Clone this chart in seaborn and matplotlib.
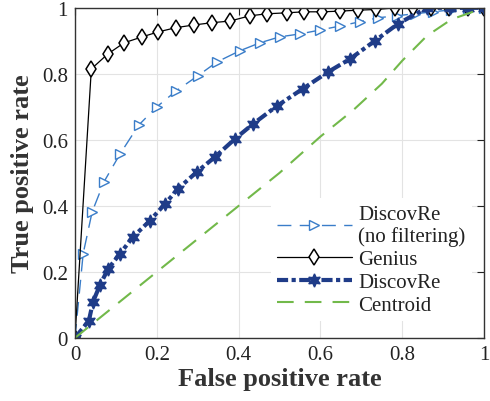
import matplotlib
matplotlib.use("Agg")
import matplotlib.pyplot as plt
import seaborn as sns
import numpy as np

# ROC curves
genius_fpr = [0, 0.04, 0.08, 0.12, 0.164, 0.203, 0.247, 0.29, 0.335, 0.379, 0.428, 0.47,
              0.518, 0.56, 0.604, 0.648, 0.692, 0.736, 0.782, 0.826, 0.87, 0.915, 0.96, 1.0]
genius_tpr = [0, 0.815, 0.86, 0.894, 0.912, 0.927, 0.94, 0.948, 0.955, 0.96, 0.976, 0.982,
              0.985, 0.988, 0.988, 0.99, 0.993, 0.995, 1.0, 1.0, 1.0, 1.0, 1.0, 1.0]

nofilt_fpr = [0, 0.02, 0.042, 0.071, 0.11, 0.156, 0.2, 0.247, 0.30, 0.347, 0.403, 0.452,
              0.50, 0.55, 0.60, 0.648, 0.697, 0.741, 0.787, 0.83, 0.875, 0.92, 0.96, 1.0]
nofilt_tpr = [0, 0.255, 0.382, 0.473, 0.557, 0.645, 0.70, 0.748, 0.794, 0.836, 0.870, 0.894,
              0.912, 0.921, 0.933, 0.945, 0.958, 0.97, 0.976, 0.982, 0.988, 0.994, 1.0, 1.0]

discovre_fpr = [0, 0.034, 0.044, 0.061, 0.081, 0.11, 0.142, 0.183, 0.22, 0.252, 0.298, 0.342,
                0.391, 0.435, 0.494, 0.557, 0.619, 0.672, 0.733, 0.79, 0.86, 0.917, 0.96, 1.0]
discovre_tpr = [0, 0.052, 0.109, 0.16, 0.209, 0.255, 0.306, 0.355, 0.406, 0.452, 0.503, 0.548,
                0.603, 0.648, 0.703, 0.755, 0.806, 0.845, 0.9, 0.952, 1.0, 1.0, 1.0, 1.0]

centroid_fpr = [0, 0.2, 0.4, 0.5, 0.6, 0.68, 0.75, 0.8, 0.86, 0.92, 1.0]
centroid_tpr = [0, 0.2, 0.4, 0.5, 0.61, 0.69, 0.77, 0.84, 0.915, 0.965, 1.0]

tick_vals = [0, 0.2, 0.4, 0.6, 0.8, 1]
tick_labels = ["0", "0.2", "0.4", "0.6", "0.8", "1"]

sns.set_style("whitegrid")
plt.rcParams['font.family'] = 'serif'
plt.rcParams['font.serif'] = ['Liberation Serif', 'Times New Roman', 'DejaVu Serif']
plt.rcParams['lines.scale_dashes'] = False

fig = plt.figure(figsize=(4.9, 4.02), dpi=100)
ax = fig.add_axes([0.153, 0.157, 0.835, 0.821])

star6 = (6, 1, 0)

sns.lineplot(x=nofilt_fpr, y=nofilt_tpr, ax=ax, estimator=None, sort=False,
             color='#3a7dc9', linewidth=1.0, marker='>', markersize=6.5,
             markerfacecolor='white', markeredgecolor='#3a7dc9', markeredgewidth=1.0,
             label='DiscovRe\n(no filtering)')
ax.lines[-1].set_dashes([10, 6])

sns.lineplot(x=genius_fpr, y=genius_tpr, ax=ax, estimator=None, sort=False,
             color='black', linewidth=0.9, marker='d', markersize=8.5,
             markerfacecolor='white', markeredgecolor='black', markeredgewidth=1.1,
             label='Genius')

sns.lineplot(x=discovre_fpr, y=discovre_tpr, ax=ax, estimator=None, sort=False,
             color='#1f3c88', linewidth=3.0, marker=star6, markersize=9.5,
             markerfacecolor='#1f3c88', markeredgecolor='#1f3c88', markeredgewidth=1.0,
             label='DiscovRe')
ax.lines[-1].set_dashes([8, 2.5, 3, 2.5])

sns.lineplot(x=centroid_fpr, y=centroid_tpr, ax=ax, estimator=None, sort=False,
             color='#72b94a', linewidth=1.5, label='Centroid')
ax.lines[-1].set_dashes([12, 8])

ax.set_xlim(0, 1)
ax.set_ylim(0, 1)
ax.set_xticks(tick_vals)
ax.set_xticklabels(tick_labels)
ax.set_yticks(tick_vals)
ax.set_yticklabels(tick_labels)
ax.tick_params(direction='in', length=5, width=0.8, colors='#222222', labelsize=15,
               top=True, right=True, labelcolor='#222222', pad=5)
ax.grid(True, color='#e3e3e3', linewidth=0.8)
for sp in ax.spines.values():
    sp.set_color('#333333')
    sp.set_linewidth(1.0)

ax.set_xlabel('False positive rate', fontsize=19, fontweight='bold', color='#333333', labelpad=2)
ax.set_ylabel('True positive rate', fontsize=19, fontweight='bold', color='#333333', labelpad=6)

leg = ax.legend(loc='lower right', bbox_to_anchor=(0.995, 0.02), fontsize=15,
                frameon=True, facecolor='white', edgecolor='none', framealpha=1,
                handlelength=3.6, labelspacing=0.15, handletextpad=0.3, borderpad=0.3)
for t in leg.get_texts():
    t.set_color('#222222')

fig.savefig('out.png', dpi=100)
